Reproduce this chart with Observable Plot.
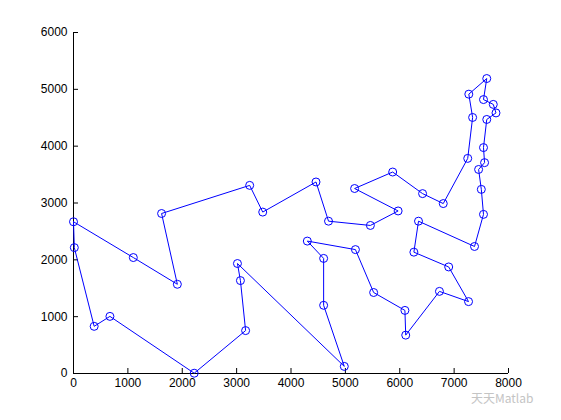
<!DOCTYPE html>
<html>
<head>
<meta charset="utf-8">
<script src="https://cdn.jsdelivr.net/npm/d3@7"></script>
<script src="https://cdn.jsdelivr.net/npm/@observablehq/plot@0.6"></script>
<style>
  html, body { margin: 0; padding: 0; background: #fff; }
  #wrap { position: relative; width: 561px; height: 420px; }
  #wm { position: absolute; left: 471px; top: 392px; font: 12px/11px "Noto Sans CJK SC", "Liberation Sans", sans-serif; color: #c4c4c4; white-space: nowrap; }
</style>
</head>
<body>
<div id="wrap"><div id="wm">天天Matlab</div></div>
<script>
// Tour order (closed route), city coordinates
const cityX = [0, 1100, 1910, 1620, 3240, 3480, 4460, 4690, 5460, 5970, 5170, 5870, 6420, 6800,
  7250, 7340, 7270, 7600, 7540, 7720, 7770, 7600, 7540, 7560, 7450, 7500, 7540, 7375,
  6345, 6260, 6900, 7265, 6730, 6110, 6095, 5520, 5185, 4300, 4600, 4600, 4980,
  3015, 3070, 3165, 2220, 670, 380, 15];
const cityY = [2670, 2040, 1570, 2815, 3310, 2840, 3370, 2680, 2605, 2860, 3255, 3545, 3165, 2990,
  3785, 4505, 4915, 5190, 4820, 4735, 4585, 4470, 3975, 3710, 3590, 3240, 2800, 2235,
  2680, 2135, 1875, 1265, 1445, 675, 1110, 1425, 2180, 2330, 2025, 1200, 125,
  1935, 1635, 755, 5, 1005, 830, 2215];
const xTicks = [0, 1000, 2000, 3000, 4000, 5000, 6000, 7000, 8000];
const yTicks = [0, 1000, 2000, 3000, 4000, 5000, 6000];

const pts = cityX.map((x, i) => ({x, y: cityY[i]}));
const route = [...pts, pts[0]];

const chart = Plot.plot({
  width: 561,
  height: 420,
  marginLeft: 73,
  marginRight: 53,
  marginTop: 32,
  marginBottom: 47,
  style: {fontFamily: "'Liberation Sans', Arial, sans-serif", fontSize: "12px", background: "#fff", color: "#000"},
  x: {domain: [0, 8000]},
  y: {domain: [0, 6000]},
  marks: [
    Plot.ruleX([0], {stroke: "#000"}),
    Plot.ruleY([0], {stroke: "#000"}),
    Plot.axisX({ticks: xTicks, tickSize: -5, tickPadding: 10, tickFormat: d => String(d), label: null, stroke: "#000"}),
    Plot.axisY({ticks: yTicks, tickSize: -5, tickPadding: 11, tickFormat: d => String(d), label: null, stroke: "#000"}),
    Plot.line(route, {x: "x", y: "y", stroke: "#0000ff", strokeWidth: 1}),
    Plot.dot(pts, {x: "x", y: "y", r: 4, stroke: "#0000ff", fill: "none", strokeWidth: 1})
  ]
});
document.getElementById("wrap").prepend(chart);
</script>
</body>
</html>
